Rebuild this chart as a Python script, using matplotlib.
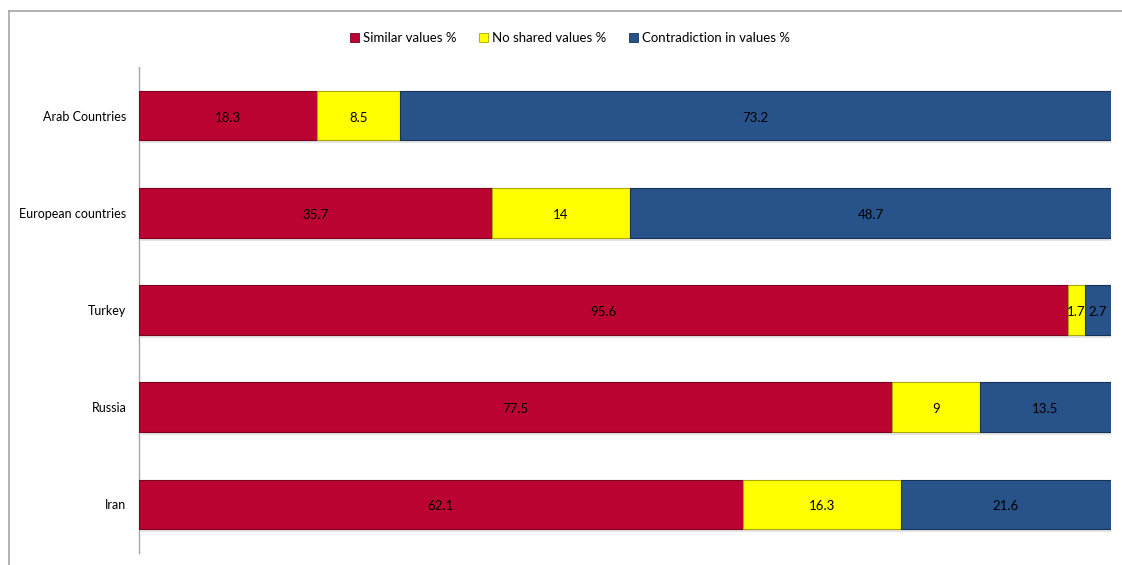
import numpy as np
import matplotlib.pyplot as plt
from matplotlib.patches import Patch
from matplotlib.lines import Line2D

plt.rcParams['font.family'] = ['Lato', 'DejaVu Sans']

# Data
paises = ['Arab Countries', 'European countries', 'Turkey', 'Russia', 'Iran']
similar = [18.3, 35.7, 95.6, 77.5, 62.1]
no_shared = [8.5, 14, 1.7, 9, 16.3]
contradiction = [73.2, 48.7, 2.7, 13.5, 21.6]
series_names = ['Similar values %', 'No shared values %', 'Contradiction in values %']

cores = ['#BC0433', '#FFFF00', '#28528A']
bordas = ['#7A0020', '#A8A800', '#173458']

fig = plt.figure(figsize=(11.22, 5.65), dpi=100)
ax = fig.add_axes([0.1239, 0.0212, 0.9902 - 0.1239, 0.8814 - 0.0212])

valores = np.array([similar, no_shared, contradiction], dtype=float)
totais = valores.sum(axis=0)
pct = valores / totais  # 100% stacked

y = np.arange(len(paises))
esquerda = np.zeros(len(paises))
for i in range(3):
    barras = ax.barh(y, pct[i], left=esquerda, height=0.51, color=cores[i],
                     edgecolor=bordas[i], linewidth=0.8, zorder=3)
    # faint shadow under bars
    ax.barh(y + 0.03, pct[i], left=esquerda + 0.002, height=0.51,
            color='#000000', alpha=0.10, linewidth=0, zorder=2)
    for j, b in enumerate(barras):
        v = valores[i][j]
        ax.text(esquerda[j] + pct[i][j] / 2, y[j] + 0.02, f'{v:g}', ha='center',
                va='center', fontsize=9.5, color='black', zorder=4)
    esquerda += pct[i]

ax.set_xlim(0, 1)
ax.set_ylim(len(paises) - 0.5, -0.5)
ax.set_yticks(y)
ax.set_yticklabels(paises, fontsize=9)
ax.tick_params(axis='y', length=0, pad=9)
ax.set_xticks([])
for s in ['top', 'right', 'bottom']:
    ax.spines[s].set_visible(False)
ax.spines['left'].set_color('#A6A6A6')
ax.spines['left'].set_linewidth(1)

handles = [Patch(facecolor=cores[i], edgecolor=bordas[i], linewidth=0.6) for i in range(3)]
fig.legend(handles, series_names, loc='center', bbox_to_anchor=(0.508, 0.932),
           ncol=3, frameon=False, fontsize=9.5, handlelength=0.7, handleheight=0.7,
           handletextpad=0.3, columnspacing=1.7)

# outer chart frame (top and left)
fig.add_artist(Line2D([9 / 1122, 1.0], [1 - 11 / 565, 1 - 11 / 565],
                      transform=fig.transFigure, color='#A6A6A6', linewidth=1.2))
fig.add_artist(Line2D([9 / 1122, 9 / 1122], [0, 1 - 11 / 565],
                      transform=fig.transFigure, color='#A6A6A6', linewidth=1.2))

fig.savefig('out.png', dpi=100)
